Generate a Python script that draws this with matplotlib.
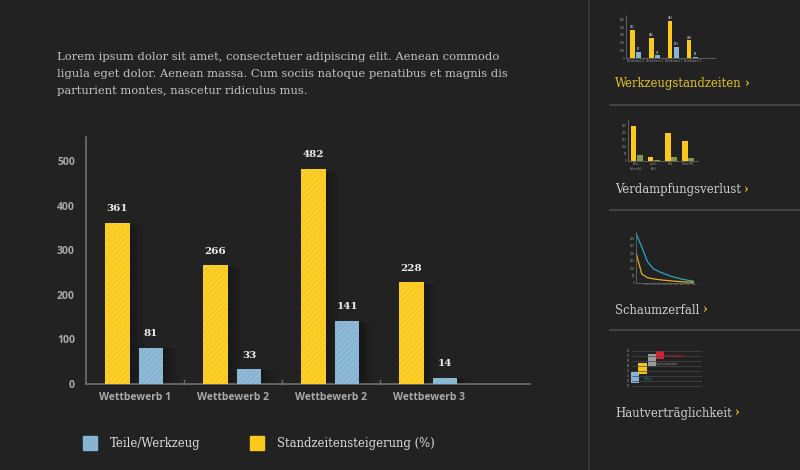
import matplotlib.pyplot as plt
import numpy as np

# main chart data
categories = ['Wettbewerb 1', 'Wettbewerb 2', 'Wettbewerb 2', 'Wettbewerb 3']
standzeit = [361, 266, 482, 228]
teile = [81, 33, 141, 14]
y_ticks = [0, 100, 200, 300, 400, 500]

# sidebar thumbnails (read roughly off the small previews)
verdampf_gelb = [250, 30, 195, 140]
verdampf_gruen = [45, 10, 25, 18]
schaum_x = [0, 1, 2, 3, 4, 5, 6, 7, 8, 9, 10]
schaum_blau = [330, 240, 140, 95, 75, 60, 45, 35, 25, 18, 12]
schaum_gelb = [200, 60, 35, 28, 22, 18, 14, 11, 8, 6, 5]
sidebar_titles = ['Werkzeugstandzeiten', 'Verdampfungsverlust', 'Schaumzerfall', 'Hautverträglichkeit']

BG = '#222222'
YELLOW = '#fbc91c'
BLUE = '#86b4d2'
GREEN = '#7f9a4a'
GRID = '#6f6f6f'
TXT = '#a9a9a9'

W, H = 800, 470
fig = plt.figure(figsize=(8, 4.7), dpi=100, facecolor=BG)


def fx(px):
    return px / W


def fy(py):
    return 1 - py / H


# intro paragraph
para = ["Lorem ipsum dolor sit amet, consectetuer adipiscing elit. Aenean commodo",
        "ligula eget dolor. Aenean massa. Cum sociis natoque penatibus et magnis dis",
        "parturient montes, nascetur ridiculus mus."]
for i, line in enumerate(para):
    fig.text(fx(57), fy(57 + i * 17), line, family='DejaVu Serif', fontsize=8.25,
             color='#c4c4c4', va='center', ha='left')

# main axes
ax = fig.add_axes([fx(86), fy(384), fx(530) - fx(86), fy(137) - fy(384)])
ax.set_facecolor(BG)
x = np.arange(len(categories))
w = 0.25
off_y, off_b = -0.18, 0.165

# soft shadows to the right of each bar
n_sh = 12
for off, vals in [(off_y, standzeit), (off_b, teile)]:
    for k in range(n_sh):
        ax.bar(x + off + w / 2 + 0.006 + k * 0.014, np.array(vals) * 0.985, width=0.0145,
               color='black', alpha=0.30 * (1 - k / n_sh) ** 1.4, linewidth=0, zorder=1)

plt.rcParams['hatch.linewidth'] = 0.6
ax.bar(x + off_y, standzeit, width=w, color=YELLOW, edgecolor='#ffd84a',
       hatch='//////', linewidth=0, zorder=3)
ax.bar(x + off_b, teile, width=w, color=BLUE, edgecolor='#9cc3dc',
       hatch='//////', linewidth=0, zorder=3)

for xi, v in zip(x + off_y, standzeit):
    ax.text(xi, v + 32, str(v), ha='center', va='center', family='DejaVu Serif',
            fontweight='bold', fontsize=7.5, color='#eeeeee')
for xi, v in zip(x + off_b, teile):
    ax.text(xi, v + 32, str(v), ha='center', va='center', family='DejaVu Serif',
            fontweight='bold', fontsize=7.5, color='#eeeeee')

ax.set_xlim(-0.5, 4.03)
ax.set_ylim(0, 554)
ax.set_yticks(y_ticks)
ax.set_yticklabels([str(t) for t in y_ticks], fontsize=7.5, fontweight='bold',
                   color=TXT, family='Open Sans')
ax.tick_params(axis='y', length=0, pad=8)
ax.set_xticks(x)
ax.set_xticklabels(categories, fontsize=7.5, fontweight='bold', color=TXT, family='Open Sans')
ax.tick_params(axis='x', length=0, pad=6)
for b in [0.5, 1.5, 2.5]:
    ax.plot([b, b], [0, 10], color=GRID, lw=1, zorder=4, clip_on=False)
for s in ['top', 'right']:
    ax.spines[s].set_visible(False)
for s in ['left', 'bottom']:
    ax.spines[s].set_color(GRID)
    ax.spines[s].set_linewidth(1.2)

# legend
for px, col, label in [(83, BLUE, 'Teile/Werkzeug'), (250, YELLOW, 'Standzeitensteigerung (%)')]:
    fig.patches.append(plt.Rectangle((fx(px), fy(450)), fx(14), 14 / H, color=col,
                                     transform=fig.transFigure, figure=fig))
    fig.text(fx(px + 27), fy(444), label, family='DejaVu Serif', fontsize=8.4,
             color='#dddddd', va='center', ha='left')

# sidebar
fig.add_artist(plt.Line2D([fx(589), fx(589)], [0, 1], color='#3a3a3a', lw=1.2))
for py in [105, 210, 330]:
    fig.add_artist(plt.Line2D([fx(610), 1], [fy(py), fy(py)], color='#4a4a4a', lw=1.2))

title_y = [84, 190, 310, 413]
for i, (t, py) in enumerate(zip(sidebar_titles, title_y)):
    col = '#e6c31e' if i == 0 else '#cfcfcf'
    tx = fig.text(fx(615), fy(py), t, family='DejaVu Serif', fontsize=8.4, color=col,
                  va='center', ha='left')
    fig.canvas.draw()
    bb = tx.get_window_extent()
    fig.text(bb.x1 / W + fx(3), fy(py), '›', family='DejaVu Serif', fontsize=8.4,
             color='#f0c419', va='center', ha='left', fontweight='bold')


def mini_axes(l, t, r, b):
    a = fig.add_axes([fx(l), fy(b), fx(r) - fx(l), fy(t) - fy(b)])
    a.set_facecolor(BG)
    for s in ['top', 'right']:
        a.spines[s].set_visible(False)
    for s in ['left', 'bottom']:
        a.spines[s].set_color('#777777')
        a.spines[s].set_linewidth(0.5)
    a.tick_params(length=0, pad=1, labelsize=2, labelcolor='#999999')
    return a


# thumbnail 1: Werkzeugstandzeiten
t1 = mini_axes(626, 15, 715, 58)
t1.bar(x - 0.17, standzeit, width=0.25, color=YELLOW, linewidth=0)
t1.bar(x + 0.17, teile, width=0.25, color=BLUE, linewidth=0)
for xi, v in zip(x - 0.17, standzeit):
    t1.text(xi, v + 25, str(v), fontsize=1.8, color='white', ha='center')
for xi, v in zip(x + 0.17, teile):
    t1.text(xi, v + 25, str(v), fontsize=1.8, color='white', ha='center')
t1.set_xlim(-0.5, 4.2)
t1.set_ylim(0, 560)
t1.set_yticks(y_ticks)
t1.set_xticks(x)
t1.set_xticklabels(categories, fontsize=1.8)

# thumbnail 2: Verdampfungsverlust
t2 = mini_axes(628, 120, 698, 161)
t2.bar(x - 0.17, verdampf_gelb, width=0.32, color=YELLOW, linewidth=0)
t2.bar(x + 0.2, verdampf_gruen, width=0.32, color=GREEN, linewidth=0)
t2.set_xlim(-0.5, 3.6)
t2.set_ylim(0, 290)
t2.set_yticks([0, 50, 100, 150, 200, 250])
t2.set_xticks(x)
t2.set_xticklabels(['Bohr-,\nSchneidöl', 'synth.\nKühl', 'Mild', 'Hohe EM'], fontsize=1.8)

# thumbnail 3: Schaumzerfall
t3 = mini_axes(636, 232, 694, 283)
t3.plot(schaum_x, schaum_blau, color='#2ba6c9', lw=0.9)
t3.plot(schaum_x, schaum_gelb, color='#e0b21a', lw=0.9)
t3.set_xlim(0, 10)
t3.set_ylim(0, 340)
t3.set_yticks(range(0, 350, 50))
t3.set_xticks([2, 3, 4, 5, 6, 7, 8, 9, 10])
t3.set_xticklabels(['1000'] * 9, fontsize=1.6)

# thumbnail 4: Hautverträglichkeit
t4 = fig.add_axes([fx(624), fy(391), fx(702) - fx(624), fy(346) - fy(391)])
t4.set_facecolor(BG)
t4.axis('off')
t4.set_xlim(0, 78)
t4.set_ylim(0, 9)
for gy in range(1, 9):
    t4.plot([8, 78], [gy, gy], color='#4a4a4a', lw=0.5)
    t4.text(3, gy, str(gy * 10), fontsize=1.8, color='#999999', va='center')
t4.bar([11], [2.2], bottom=[1.6], width=8, color=BLUE, linewidth=0)
t4.bar([18], [2.2], bottom=[3.4], width=9, color='#f2c414', linewidth=0)
t4.bar([27.5], [2.4], bottom=[5.0], width=8, color='#9a9a9a', linewidth=0)
t4.bar([36], [1.6], bottom=[6.4], width=8, color='#d9202e', linewidth=0)
t4.text(20, 2.4, 'Teile/...', fontsize=1.8, color='#3aa0d0', va='center')
t4.text(41, 7.0, 'Hautverträglich', fontsize=1.8, color='#d9202e', va='center')
t4.text(31, 5.4, 'Vergleichsprodukt', fontsize=1.8, color='#999999', va='center')

fig.savefig('out.png', dpi=100, facecolor=BG)
